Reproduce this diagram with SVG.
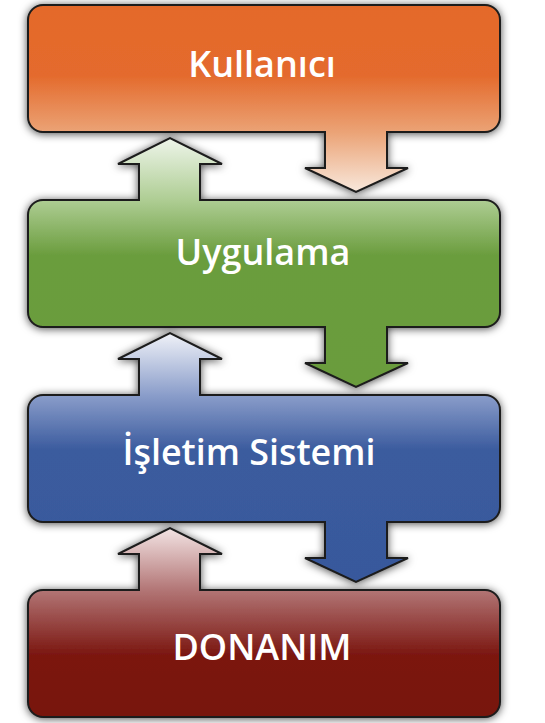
<svg xmlns="http://www.w3.org/2000/svg" width="545" height="723" viewBox="0 0 545 723">
<defs>
<style>
.shape{stroke:#1c1c1c;stroke-width:2;stroke-linejoin:miter;filter:url(#sh)}
.lbl{font-family:"Open Sans","DejaVu Sans",sans-serif;font-size:36px;font-weight:600;fill:#ffffff;text-anchor:middle}
</style>
<filter id="sh" x="-10%" y="-10%" width="120%" height="120%">
<feDropShadow dx="0" dy="1" stdDeviation="4" flood-color="#000" flood-opacity="0.7"/>
</filter>
<linearGradient id="gO" gradientUnits="userSpaceOnUse" x1="0" y1="0" x2="0" y2="187">
<stop offset="0" stop-color="#e4692b"/>
<stop offset="0.38" stop-color="#e46b2d"/>
<stop offset="0.68" stop-color="#eba376"/>
<stop offset="1" stop-color="#f8e8dc"/>
</linearGradient>
<linearGradient id="gG" gradientUnits="userSpaceOnUse" x1="0" y1="-62" x2="0" y2="187">
<stop offset="0" stop-color="#eef5ea"/>
<stop offset="0.25" stop-color="#aecd93"/>
<stop offset="0.47" stop-color="#6b9d3e"/>
<stop offset="1" stop-color="#6a9c3d"/>
</linearGradient>
<linearGradient id="gB" gradientUnits="userSpaceOnUse" x1="0" y1="-62" x2="0" y2="187">
<stop offset="0" stop-color="#f0f2f8"/>
<stop offset="0.25" stop-color="#8a9dca"/>
<stop offset="0.47" stop-color="#3b5b9e"/>
<stop offset="1" stop-color="#38599c"/>
</linearGradient>
<linearGradient id="gR" gradientUnits="userSpaceOnUse" x1="0" y1="-62" x2="0" y2="127">
<stop offset="0" stop-color="#f3e4e4"/>
<stop offset="0.33" stop-color="#b27575"/>
<stop offset="0.67" stop-color="#7b1711"/>
<stop offset="1" stop-color="#78140e"/>
</linearGradient>
</defs>
<g id="connectors"></g>
<g id="kullanici" transform="translate(0,5)">
<path class="shape" fill="url(#gO)" d="M43 0H485A15 15 0 0 1 500 15V112A15 15 0 0 1 485 127H387V163H408L356 187L305 163H325V127H43A15 15 0 0 1 28 112V15A15 15 0 0 1 43 0Z"/>
<text class="lbl" x="262" y="72">Kullanıcı</text>
</g>
<g id="uygulama" transform="translate(0,200)">
<path class="shape" fill="url(#gG)" d="M43 0H139V-36H118L170 -62L222 -36H200V0H485A15 15 0 0 1 500 15V112A15 15 0 0 1 485 127H387V163H408L356 187L305 163H325V127H43A15 15 0 0 1 28 112V15A15 15 0 0 1 43 0Z"/>
<text class="lbl" x="263" y="65">Uygulama</text>
</g>
<g id="isletim-sistemi" transform="translate(0,395)">
<path class="shape" fill="url(#gB)" d="M43 0H139V-36H118L170 -62L222 -36H200V0H485A15 15 0 0 1 500 15V112A15 15 0 0 1 485 127H387V163H408L356 187L305 163H325V127H43A15 15 0 0 1 28 112V15A15 15 0 0 1 43 0Z"/>
<text class="lbl" x="249" y="70" textLength="253" lengthAdjust="spacingAndGlyphs">İşletim Sistemi</text>
</g>
<g id="donanim" transform="translate(0,590)">
<path class="shape" fill="url(#gR)" d="M43 0H139V-36H118L170 -62L222 -36H200V0H485A15 15 0 0 1 500 15V112A15 15 0 0 1 485 127H43A15 15 0 0 1 28 112V15A15 15 0 0 1 43 0Z"/>
<text class="lbl" x="262" y="70">DONANIM</text>
</g>
</svg>
